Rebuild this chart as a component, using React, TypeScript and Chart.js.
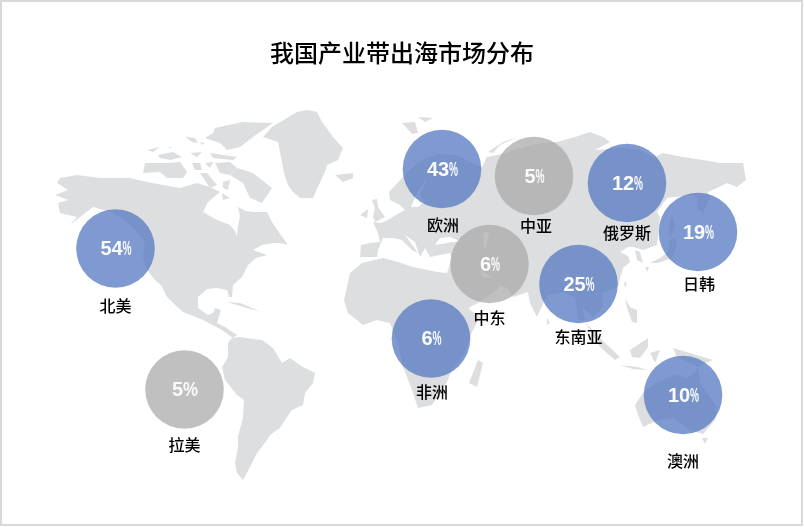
import React, { useEffect, useRef } from "react";
import { Chart, registerables } from "chart.js";

Chart.register(...registerables);

const TITLE = "我国产业带出海市场分布";
const regions = ["北美", "拉美", "欧洲", "中亚", "俄罗斯", "日韩", "中东", "东南亚", "非洲", "澳洲"];
const shares = [54, 5, 43, 5, 12, 19, 6, 25, 6, 10];
const mapX = [115.5, 184.5, 442, 534, 627, 698, 489.5, 578.5, 431, 683];
const mapY = [248.5, 389.5, 169, 176, 183, 232, 264, 284, 338.5, 395];
const highlighted = [true, false, true, false, true, true, false, true, true, true];

type P = [number, number];
const northAmerica: P[] = [[130,178],[147,182],[163,185],[180,188],[197,183],[210,187],[220,192],[208,202],[203,212],[210,216],[217,220],[230,225],[235,231],[237,236],[238,226],[240,216],[238,207],[246,211],[253,212],[267,212],[272,222],[278,231],[288,245],[280,243],[273,243],[262,245],[253,250],[267,255],[256,258],[248,265],[242,277],[233,285],[232,297],[229,297],[227,290],[217,288],[207,289],[198,297],[198,308],[208,315],[213,313],[215,308],[221,310],[217,323],[225,327],[237,335],[233,338],[222,330],[203,320],[183,312],[173,303],[163,287],[155,280],[147,270],[143,257],[145,243],[137,232],[125,220],[110,212],[93,207],[70,225],[77,217],[60,213],[58,203],[68,200],[55,195],[68,190],[57,183],[60,178],[77,175],[100,178]];
const baja: P[] = [[161,285],[167,292],[173,303],[167,297]];
const southAmerica: P[] = [[228,343],[232,338],[240,337],[253,339],[262,340],[273,348],[282,363],[290,358],[303,367],[315,373],[313,383],[305,393],[303,405],[292,410],[287,417],[280,428],[270,435],[267,440],[257,453],[250,467],[243,480],[237,473],[235,463],[238,447],[238,437],[243,417],[244,400],[237,395],[225,380],[222,367],[228,357]];
const cuba: P[] = [[227,302],[240,303],[257,310],[263,312],[247,308]];
const greenland: P[] = [[297,112],[307,110],[317,112],[322,122],[328,130],[333,137],[343,148],[338,160],[327,165],[325,172],[322,178],[313,198],[300,198],[293,192],[288,185],[284,173],[282,162],[278,142],[263,137],[272,127],[287,118]];
const iceland: P[] = [[335,175],[353,173],[353,178],[343,182]];
const arctic: P[][] = [
  [[215,128],[243,122],[273,123],[263,130],[253,137],[240,147],[227,150],[220,143],[205,138],[213,133]],
  [[185,137],[195,138],[198,143],[192,142]],
  [[200,142],[205,143],[202,145]],
  [[147,150],[160,147],[153,152]],
  [[168,147],[173,147],[170,148]],
  [[158,155],[173,152],[182,157],[170,160],[160,158]],
  [[145,163],[167,163],[180,162],[187,172],[183,178],[167,178],[160,172],[143,173]],
  [[190,153],[202,152],[197,157]],
  [[210,153],[237,157],[233,160],[213,158]],
  [[192,163],[200,163],[202,170],[195,170]],
  [[205,163],[213,162],[210,168]],
  [[215,163],[230,162],[237,168],[230,175],[220,173]],
  [[237,168],[253,173],[272,188],[262,203],[250,198],[243,183],[230,175]],
  [[200,173],[207,173],[217,185],[210,188]],
  [[223,182],[230,180],[228,190],[223,188]],
  [[222,193],[230,198],[223,200]],
];
const eurasia: P[] = [[360,257],[361,245],[370,243],[380,242],[378,233],[373,222],[381,223],[388,220],[396,215],[405,210],[400,205],[390,200],[389,192],[403,177],[418,162],[437,154],[457,155],[475,165],[482,167],[487,157],[507,153],[513,150],[540,143],[557,142],[575,137],[590,132],[603,137],[610,142],[595,150],[620,148],[640,150],[653,158],[663,153],[683,157],[703,160],[720,163],[743,163],[746,180],[737,187],[727,183],[717,188],[708,192],[710,197],[703,213],[697,208],[698,198],[692,195],[675,197],[667,198],[657,212],[660,217],[657,245],[643,250],[633,247],[628,247],[620,252],[628,256],[630,262],[623,268],[620,278],[618,287],[602,293],[603,307],[593,317],[582,307],[585,320],[578,320],[576,300],[573,297],[563,292],[547,295],[542,306],[537,317],[530,303],[528,292],[513,297],[507,288],[500,285],[497,290],[478,303],[468,308],[457,290],[447,273],[452,258],[450,253],[430,257],[425,248],[420,257],[415,242],[405,235],[418,253],[412,250],[402,240],[393,238],[383,238],[378,250],[377,257]];
const africa: P[] = [[350,273],[362,263],[383,258],[398,262],[413,267],[437,272],[447,273],[470,310],[480,317],[472,332],[465,353],[452,370],[447,382],[432,405],[418,408],[412,390],[403,367],[398,343],[390,323],[377,320],[363,325],[348,313],[344,300],[347,287]];
const madagascar: P[] = [[478,360],[483,363],[477,387],[469,383]];
const asiaIslands: P[][] = [
  [[402,123],[415,122],[418,133],[412,134]],
  [[418,117],[433,118],[425,122]],
  [[488,152],[503,142],[518,137],[500,145],[493,153]],
  [[372,200],[377,199],[378,207],[385,217],[375,222],[373,217],[375,208]],
  [[360,215],[368,209],[367,218]],
  [[547,318],[550,323],[547,325]],
  [[585,322],[602,340],[620,357],[615,360],[600,347],[590,330]],
  [[630,350],[648,338],[648,347],[640,358],[632,357]],
  [[620,365],[637,367],[648,370],[633,369]],
  [[650,353],[660,350],[655,363]],
  [[673,348],[690,353],[713,360],[697,367],[677,357]],
  [[625,298],[630,307],[637,310],[637,323],[632,322],[627,308]],
  [[624,282],[627,283],[625,288]],
  [[635,250],[640,252],[643,263],[637,260]],
  [[645,267],[649,267],[647,272]],
  [[650,263],[660,258],[668,252],[670,240],[675,237],[677,245],[672,258],[658,263]],
  [[672,215],[675,227],[670,238],[669,227]],
];
const australia: P[] = [[635,405],[645,390],[667,378],[677,375],[687,378],[695,373],[698,367],[700,383],[717,407],[715,420],[703,434],[690,430],[673,418],[658,420],[643,427],[638,415]];
const tasmania: P[] = [[702,438],[708,438],[705,444]];
const innerSeas: P[][] = [
  [[435,245],[453,242],[462,242],[450,237],[440,238]],
  [[483,233],[489,232],[487,243],[484,250]],
  [[480,270],[493,278],[483,277]],
  [[411,207],[417,193],[424,182],[428,178],[424,186],[420,194],[424,202],[418,207]],
];

const land: P[][] = [northAmerica, baja, southAmerica, cuba, greenland, iceland, ...arctic, eurasia, africa, madagascar, ...asiaIslands, australia, tasmania];

const LAND = "#dddee0";
const BLUE = "rgba(84,119,194,0.75)";
const GREY = "rgba(167,167,167,0.72)";
const FONT = "'Liberation Sans','Noto Sans CJK SC',sans-serif";
const labelGap = [59.5, 57.5, 57.5, 51.5, 51.5, 53.5, 55.5, 54.5, 55.5, 67.5];
const labelShift = [0, 0, 1, 2, 0, 1, 0, 0, 1, 0];
const percentWidth = [9, 15, 9, 9, 9, 9, 9, 9, 9, 9];

const polygon = (points: P[], color: string, order: number) => ({
  type: "line" as const,
  data: points.map(([x, y]) => ({ x, y })),
  fill: "shape",
  backgroundColor: color,
  borderWidth: 0,
  pointRadius: 0,
  tension: 0,
  order,
});

const bubbleText = {
  id: "bubbleText",
  afterDatasetsDraw(chart: Chart) {
    const { ctx, scales } = chart;
    ctx.save();
    regions.forEach((name, i) => {
      const x = scales.x.getPixelForValue(mapX[i]);
      const y = scales.y.getPixelForValue(mapY[i]);
      ctx.textBaseline = "middle";
      ctx.fillStyle = "#000";
      ctx.font = `500 16px ${FONT}`;
      ctx.textAlign = "center";
      ctx.fillText(name, x + labelShift[i], y + labelGap[i]);
      const num = String(shares[i]);
      ctx.font = `bold 20px ${FONT}`;
      ctx.fillStyle = "#fafbfd";
      const nw = ctx.measureText(num).width;
      const pw = percentWidth[i];
      const left = x - (nw + pw) / 2 + 0.5;
      ctx.textAlign = "left";
      ctx.fillText(num, left, y + 1);
      ctx.fillText("%", left + nw, y + 1, pw);
    });
    ctx.restore();
  },
};

export default function App() {
  const ref = useRef<HTMLCanvasElement>(null);
  useEffect(() => {
    document.body.style.margin = "0";
    const chart = new Chart(ref.current!, {
      type: "bubble",
      data: {
        datasets: [
          {
            data: regions.map((_, i) => ({ x: mapX[i], y: mapY[i], r: 39.3 })),
            backgroundColor: highlighted.map((h) => (h ? BLUE : GREY)),
            borderWidth: 0,
            hoverRadius: 0,
            order: 0,
          } as any,
          ...innerSeas.map((s) => polygon(s, "#ffffff", 1)),
          ...land.map((s) => polygon(s, LAND, 2)),
        ],
      },
      options: {
        responsive: false,
        animation: false,
        layout: { padding: 0, autoPadding: false },
        scales: {
          x: { type: "linear", display: false, min: 0, max: 804 },
          y: { type: "linear", display: false, min: 80, max: 527, reverse: true },
        },
        plugins: {
          legend: { display: false },
          tooltip: { enabled: false },
          title: {
            display: true,
            text: TITLE,
            color: "#000",
            font: { size: 24, family: FONT, weight: 500, lineHeight: 1.2 },
            padding: { top: 41, bottom: 10.2 },
          },
        },
      },
      plugins: [bubbleText],
    });
    return () => chart.destroy();
  }, []);
  return (
    <div style={{ position: "relative", width: 804, height: 527 }}>
      <canvas ref={ref} width={804} height={527} style={{ position: "absolute", left: 0, top: 0 }} />
      <div
        style={{
          position: "absolute",
          left: 0,
          top: 0,
          width: 803,
          height: 526,
          boxSizing: "border-box",
          border: "2px solid #d9d9d9",
          pointerEvents: "none",
        }}
      />
    </div>
  );
}
